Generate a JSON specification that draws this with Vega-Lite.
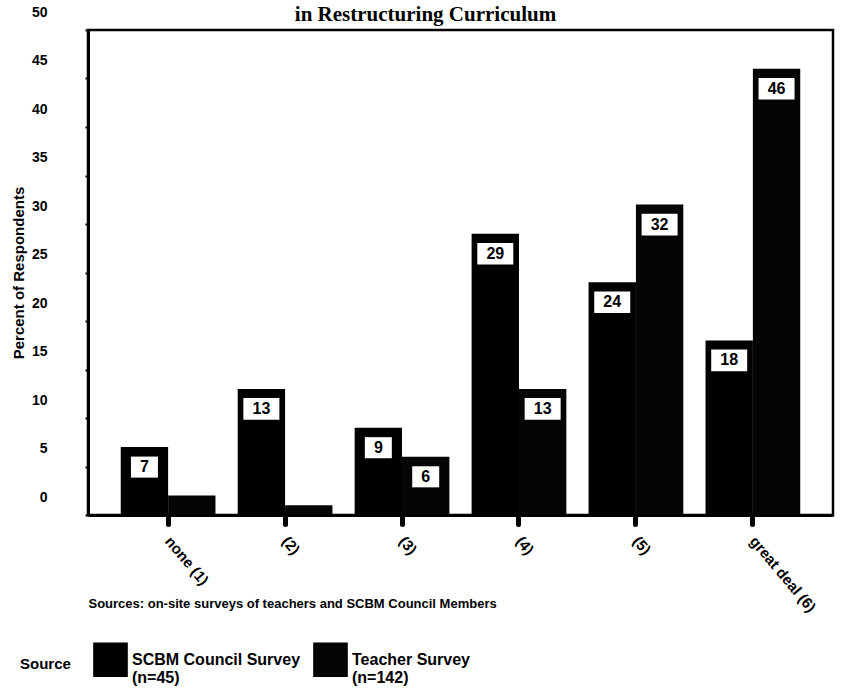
{
  "$schema": "https://vega.github.io/schema/vega-lite/v6.json",
  "autosize": {"type": "none"},
  "width": 745,
  "height": 485,
  "padding": {"left": 88, "top": 30, "right": 9, "bottom": 181},
  "background": "white",
  "title": {
    "text": "in Restructuring Curriculum",
    "font": "Liberation Serif",
    "fontSize": 21,
    "fontWeight": "bold",
    "color": "black",
    "anchor": "middle",
    "frame": "group",
    "offset": 0,
    "dy": 20,
    "dx": -35
  },
  "config": {
    "view": {"stroke": "black", "strokeWidth": 2.5},
    "font": "Liberation Sans"
  },
  "data": {
    "values": [
      {"level": "none (1)", "source": "SCBM Council Survey", "value": 7},
      {"level": "none (1)", "source": "Teacher Survey", "value": 2},
      {"level": "(2)", "source": "SCBM Council Survey", "value": 13},
      {"level": "(2)", "source": "Teacher Survey", "value": 1},
      {"level": "(3)", "source": "SCBM Council Survey", "value": 9},
      {"level": "(3)", "source": "Teacher Survey", "value": 6},
      {"level": "(4)", "source": "SCBM Council Survey", "value": 29},
      {"level": "(4)", "source": "Teacher Survey", "value": 13},
      {"level": "(5)", "source": "SCBM Council Survey", "value": 24},
      {"level": "(5)", "source": "Teacher Survey", "value": 32},
      {"level": "great deal (6)", "source": "SCBM Council Survey", "value": 18},
      {"level": "great deal (6)", "source": "Teacher Survey", "value": 46}
    ]
  },
  "encoding": {
    "x": {
      "field": "level",
      "type": "nominal",
      "sort": null,
      "scale": {"paddingInner": 0.19, "paddingOuter": 0.28},
      "axis": {
        "title": "Sources: on-site surveys of teachers and SCBM Council Members",
        "titleAnchor": "start",
        "titleAlign": "left",
        "titleBaseline": "middle",
        "titleX": 0,
        "titleY": 88,
        "titleFontSize": 13,
        "titleFontWeight": "bold",
        "titleColor": "black",
        "labelAngle": 50,
        "labelAlign": "left",
        "labelBaseline": "middle",
        "labelFontSize": 15,
        "labelFontWeight": "bold",
        "labelColor": "black",
        "labelPadding": 14,
        "domainColor": "black",
        "domainWidth": 3,
        "tickColor": "black",
        "tickWidth": 5,
        "tickSize": 9,
        "tickCap": "round"
      }
    },
    "xOffset": {"field": "source", "type": "nominal"},
    "y": {
      "field": "value",
      "type": "quantitative",
      "scale": {"domain": [0, 50], "nice": false},
      "axis": {
        "title": "Percent of Respondents",
        "titleFontSize": 15,
        "titleFontWeight": "bold",
        "titleColor": "black",
        "titlePadding": 5,
        "values": [0, 5, 10, 15, 20, 25, 30, 35, 40, 45, 50],
        "labelFontSize": 14,
        "labelFontWeight": "bold",
        "labelColor": "black",
        "labelPadding": 38,
        "labelOffset": -18,
        "grid": false,
        "domainColor": "black",
        "domainWidth": 3,
        "tickColor": "black",
        "tickWidth": 2,
        "tickSize": 3
      }
    }
  },
  "layer": [
    {
      "mark": {"type": "bar"},
      "encoding": {
        "color": {
          "field": "source",
          "type": "nominal",
          "scale": {"range": ["#000000", "#050505"]},
          "legend": {
            "orient": "none",
            "legendX": -68,
            "legendY": 612,
            "direction": "horizontal",
            "title": "Source",
            "titleOrient": "left",
            "titleFontSize": 15,
            "titleFontWeight": "bold",
            "titleColor": "black",
            "titleAnchor": "middle",
            "titleBaseline": "middle",
            "titlePadding": 22,
            "labelFontSize": 16,
            "labelFontWeight": "bold",
            "labelColor": "black",
            "labelExpr": "datum.label == 'SCBM Council Survey' ? ['SCBM Council Survey', '(n=45)'] : ['Teacher Survey', '(n=142)']",
            "labelLimit": 300,
            "labelOffset": 4,
            "symbolType": "square",
            "symbolSize": 1200,
            "symbolStrokeWidth": 0,
            "symbolOpacity": 1,
            "columnPadding": 12,
            "padding": 0
          }
        }
      }
    },
    {
      "transform": [{"filter": "datum.value >= 10"}],
      "mark": {"type": "point", "shape": "M-1,-0.6L1,-0.6L1,0.6L-1,0.6Z", "filled": true, "fill": "white", "opacity": 1, "size": 1296, "yOffset": 20, "strokeWidth": 0}
    },
    {
      "transform": [{"filter": "datum.value >= 3 && datum.value < 10"}],
      "mark": {"type": "point", "shape": "M-1,-0.78L1,-0.78L1,0.78L-1,0.78Z", "filled": true, "fill": "white", "opacity": 1, "size": 729, "yOffset": 20, "strokeWidth": 0}
    },
    {
      "transform": [{"filter": "datum.value >= 3"}],
      "mark": {"type": "text", "fontSize": 16, "fontWeight": "bold", "color": "black", "yOffset": 20, "baseline": "middle", "align": "center"},
      "encoding": {"text": {"field": "value", "type": "quantitative"}}
    }
  ]
}
